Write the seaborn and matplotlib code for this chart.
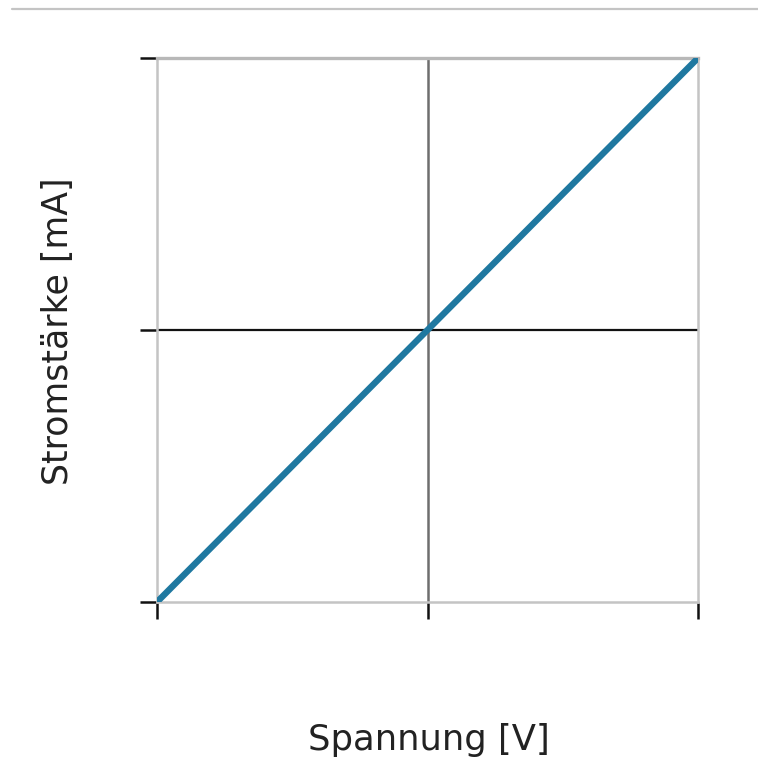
import matplotlib
matplotlib.use("Agg")
import matplotlib.pyplot as plt
import matplotlib.lines as mlines
import seaborn as sns
import pandas as pd

# Linear current-voltage characteristic (ohmic resistor), normalized units
spannung = [-1.0, 0.0, 1.0]
stromstaerke = [-1.0, 0.0, 1.0]
x_ticks = [-1.0, 0.0, 1.0]
y_ticks = [-1.0, 0.0, 1.0]

df = pd.DataFrame({"Spannung": spannung, "Stromstärke": stromstaerke})

sns.set_style("white")
plt.rcParams["font.family"] = ["DejaVu Sans"]

fig = plt.figure(figsize=(7.58, 7.66), dpi=100)
ax = fig.add_axes([157 / 758, 1 - 602 / 766, (698 - 157) / 758, (602 - 58) / 766])

# thin separator line across the top of the figure
fig.add_artist(mlines.Line2D([12 / 758, 1.0], [1 - 9 / 766, 1 - 9 / 766],
                             color="#c4c4c4", lw=1.6, transform=fig.transFigure))

# axis cross through the origin
ax.axvline(0, color="#6e6e6e", lw=1.8, zorder=1)
ax.axhline(0, color="#111111", lw=1.6, zorder=1)

sns.lineplot(data=df, x="Spannung", y="Stromstärke", ax=ax,
             color="#1f78a0", lw=4.6, zorder=3, solid_capstyle="round")

ax.set_xlim(-1, 1)
ax.set_ylim(-1, 1)
ax.set_xticks(x_ticks)
ax.set_yticks(y_ticks)
ax.set_xticklabels([])
ax.set_yticklabels([])
ax.tick_params(axis="both", direction="out", length=12, width=1.8,
               color="#111111", left=True, bottom=True)

for side in ["left", "right", "top", "bottom"]:
    ax.spines[side].set_visible(True)
    ax.spines[side].set_color("#c4c4c4")
    ax.spines[side].set_linewidth(1.8)
ax.spines["top"].set_color("#b8b8b8")
ax.spines["top"].set_linewidth(2.4)

ax.set_xlabel("")
ax.set_ylabel("")
fig.text(429 / 758, 1 - 740 / 766, "Spannung [V]", ha="center", va="center",
         fontsize=25.5, color="#222222")
fig.text(58 / 758, 1 - 331 / 766, "Stromstärke [mA]", ha="center", va="center",
         rotation=90, fontsize=25, color="#222222")

fig.savefig("out.png", dpi=100)
